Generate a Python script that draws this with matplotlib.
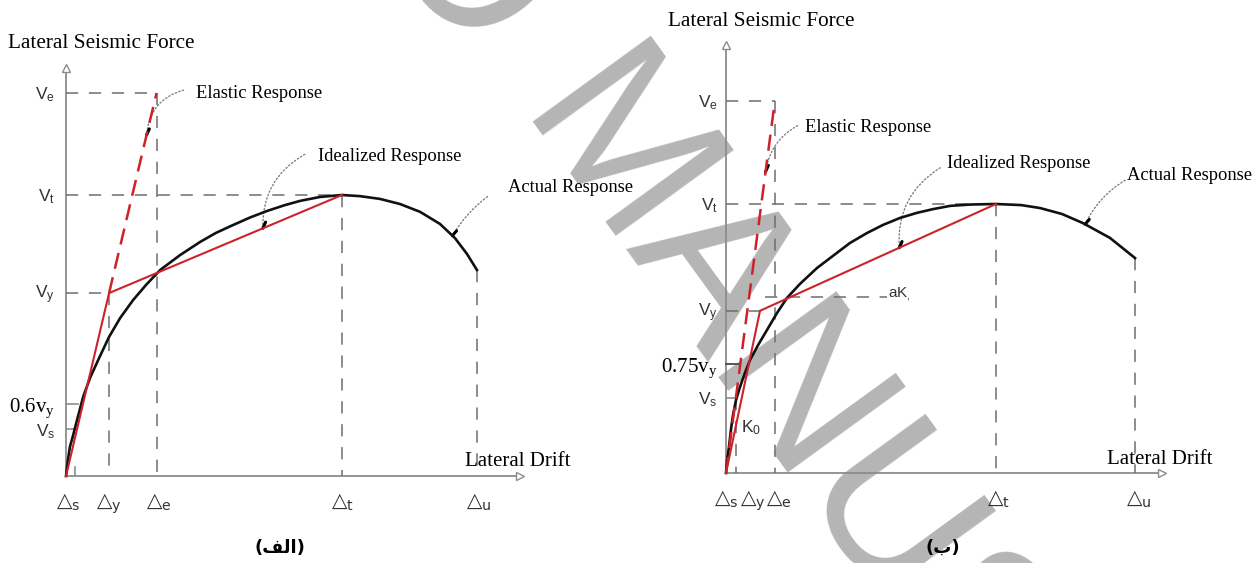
"""
Pushover curve sketches (two idealisations of the lateral force-drift response).
"""
import matplotlib.pyplot as plt
import numpy as np

# ---------------------------------------------------------------------------
# Data (drift in units of Delta_t, force in units of V_t)
# ---------------------------------------------------------------------------
DRIFT_NAMES = ['s', 'y', 'e', 't', 'u']

# panel (الف)
LEFT_DRIFT = [0.033, 0.156, 0.328, 1.0, 1.489]        # Δs, Δy, Δe, Δt, Δu
LEFT_FORCE = [1.363, 1.0, 0.651, 0.256, 0.167]        # Ve, Vt, Vy, 0.6vy, Vs
LEFT_FORCE_LABELS = ['V_e', 'V_t', 'V_y', '0.6v_y', 'V_s']
LEFT_CURVE_X = [0.0, 0.007, 0.014, 0.025, 0.040, 0.062, 0.087, 0.120, 0.156,
                0.196, 0.243, 0.290, 0.341, 0.413, 0.486, 0.543, 0.605, 0.667,
                0.728, 0.793, 0.848, 0.920, 1.0, 1.065, 1.138, 1.210, 1.283,
                1.355, 1.409, 1.453, 1.489]
LEFT_CURVE_Y = [0.0, 0.057, 0.103, 0.142, 0.199, 0.281, 0.349, 0.420, 0.495,
                0.562, 0.626, 0.680, 0.733, 0.786, 0.833, 0.865, 0.893, 0.920,
                0.943, 0.964, 0.979, 0.993, 1.0, 0.996, 0.986, 0.968, 0.940,
                0.897, 0.847, 0.790, 0.733]

# panel (ب)
RIGHT_DRIFT = [0.037, 0.126, 0.181, 1.0, 1.515]
RIGHT_FORCE = [1.383, 1.0, 0.603, 0.405, 0.279]       # Ve, Vt, Vy, 0.75vy, Vs
RIGHT_FORCE_LABELS = ['V_e', 'V_t', 'V_y', '0.75v_y', 'V_s']
RIGHT_AK_LEVEL = 0.654
RIGHT_CURVE_X = [0.0, 0.004, 0.011, 0.019, 0.026, 0.037, 0.052, 0.070, 0.089,
                 0.119, 0.152, 0.189, 0.226, 0.274, 0.337, 0.396, 0.459, 0.522,
                 0.581, 0.644, 0.707, 0.767, 0.830, 0.904, 1.0, 1.093, 1.163,
                 1.244, 1.322, 1.422, 1.515]
RIGHT_CURVE_Y = [0.0, 0.048, 0.097, 0.167, 0.216, 0.271, 0.320, 0.372, 0.420,
                 0.476, 0.532, 0.595, 0.651, 0.703, 0.762, 0.807, 0.855, 0.892,
                 0.922, 0.948, 0.967, 0.981, 0.993, 0.998, 1.0, 0.996, 0.985,
                 0.963, 0.929, 0.874, 0.799]

# ---------------------------------------------------------------------------
# Style
# ---------------------------------------------------------------------------
W, H = 1258, 563
PX = 0.72            # points per pixel at dpi=100
RED = '#cc2229'
GREY_AXIS = '#8c8c8c'
GREY_DASH = '#6e6e6e'
LABEL_COL = '#333333'
SERIF = 'Liberation Serif'
SANS = 'Liberation Sans'

fig = plt.figure(figsize=(W / 100, H / 100), dpi=100)


def panel_axes(origin_px, unit_px, xlim, ylim):
    """Axes placed so that data (0, 0) sits on the given pixel."""
    ox, oy = origin_px
    ux, uy = unit_px
    left = ox + xlim[0] * ux
    right = ox + xlim[1] * ux
    top = oy - ylim[1] * uy
    bottom = oy - ylim[0] * uy
    ax = fig.add_axes([left / W, 1 - bottom / H, (right - left) / W, (bottom - top) / H])
    ax.set_xlim(xlim)
    ax.set_ylim(ylim)
    ax.axis('off')
    ax.patch.set_visible(False)
    return ax


def dashed(ax, xs, ys, color=GREY_DASH, lw=1.1):
    ax.plot(xs, ys, color=color, lw=lw, dashes=(8, 7), clip_on=False, zorder=2)


def leader(ax, tip, text, text_off, start_off, rad, tip_off=(2, 4.5)):
    """Annotation text with a dotted leader ending in a short black tick."""
    ax.annotate(text, xy=tip, xytext=(text_off[0] * PX, text_off[1] * PX),
                textcoords='offset points', ha='left', va='center',
                family=SERIF, fontsize=13.3, color='black')
    ax.annotate('', xy=tip, xytext=(start_off[0] * PX, start_off[1] * PX),
                textcoords='offset points',
                arrowprops=dict(arrowstyle='-', linestyle=':', color='#808080', lw=1.0,
                                shrinkA=0, shrinkB=0,
                                connectionstyle=f'arc3,rad={rad}'))
    ax.annotate('', xy=tip, xytext=tip_off, textcoords='offset points',
                arrowprops=dict(arrowstyle='-', color='black', lw=2.2,
                                shrinkA=0, shrinkB=0))


def draw_frame(ax, top, right):
    # axes with hollow arrow heads
    ax.plot([0, 0], [0, top], color=GREY_AXIS, lw=1.3, clip_on=False, zorder=1)
    ax.plot([0, right], [0, 0], color=GREY_AXIS, lw=1.3, clip_on=False, zorder=1)
    ax.plot(0, top, marker='^', ms=6, mfc='white', mec=GREY_AXIS, mew=1.0, clip_on=False)
    ax.plot(right, 0, marker='>', ms=6, mfc='white', mec=GREY_AXIS, mew=1.0, clip_on=False)
    ax.annotate('Lateral Seismic Force', xy=(0, top), xytext=(-58 * PX, 24 * PX),
                textcoords='offset points', ha='left', va='center',
                family=SERIF, fontsize=15.3)
    ax.annotate('Lateral Drift', xy=(right, 0), xytext=(-55 * PX, 14 * PX),
                textcoords='offset points', ha='left', va='center',
                family=SERIF, fontsize=15)


def force_label(ax, level, label, dx=-8, dy=-1.5):
    if label[0].isdigit():
        ax.annotate(r'$\mathregular{' + label + '}$', xy=(0, level),
                    xytext=(dx, dy - 1.5), textcoords='offset points',
                    ha='right', va='center', family=SERIF, fontsize=15)
    else:
        ax.annotate(r'$\mathregular{' + label + '}$', xy=(0, level),
                    xytext=(dx, dy), textcoords='offset points',
                    ha='right', va='center', family=SANS, fontsize=12.5,
                    color=LABEL_COL)


def drift_label(ax, pos, name, dx_px=0):
    ax.annotate(r'$\mathregular{△_' + name + '}$', xy=(pos, 0),
                xytext=(dx_px * PX, -11.5), textcoords='offset points',
                ha='center', va='top', family='DejaVu Sans', fontsize=14.5,
                color=LABEL_COL)


# ---------------------------------------------------------------------------
# Panel (الف)
# ---------------------------------------------------------------------------
axl = panel_axes((66, 476), (276, 281), (-0.25, 1.95), (-0.3, 1.75))
ds, dy, de, dt, du = LEFT_DRIFT
ve, vt, vy, v06, vs = LEFT_FORCE
cx, cy = np.array(LEFT_CURVE_X), np.array(LEFT_CURVE_Y)

draw_frame(axl, 1.452, 1.645)

# guide lines
dashed(axl, [0, de], [ve, ve])
dashed(axl, [de, de], [ve, 0])
dashed(axl, [0, dt], [vt, vt])
dashed(axl, [dt, dt], [vt, 0])
dashed(axl, [0, dy], [vy, vy])
dashed(axl, [dy, dy], [vy, 0])
dashed(axl, [du, du], [cy[-1], 0])
axl.plot([ds, ds], [0, 0.032], color=GREY_AXIS, lw=1.2)
axl.plot([0, ds], [vs, vs], color=GREY_AXIS, lw=1.2)
axl.plot([0, 0.043], [v06, v06], color=GREY_AXIS, lw=1.2)

# responses
axl.plot(cx, cy, color='#111111', lw=1.9, zorder=4, solid_joinstyle='round')
axl.plot([0, dy, dt], [0, vy, vt], color=RED, lw=1.5, zorder=5)
axl.plot([dy, de], [vy, ve], color=RED, lw=1.8, dashes=(6.5, 3.5), zorder=5)

for lvl, lab in zip(LEFT_FORCE, LEFT_FORCE_LABELS):
    force_label(axl, lvl, lab)
for pos, name, nd in zip(LEFT_DRIFT, DRIFT_NAMES, [-7, 0, 2.5, 0, 2]):
    drift_label(axl, pos, name, nd)

f = 0.89
leader(axl, (f * de, f * ve), 'Elastic Response', (49, 42), (37, 45), 0.35)
f = 0.66
leader(axl, (dy + f * (dt - dy), vy + f * (vt - vy)), 'Idealized Response',
       (55, 72), (42, 74), 0.3)
xa = 1.40
peak = int(np.argmax(cy))
leader(axl, (xa, np.interp(xa, cx[peak:], cy[peak:])), 'Actual Response',
       (56, 48), (35, 39), 0.1, tip_off=(3, 3.5))

# ---------------------------------------------------------------------------
# Panel (ب)
# ---------------------------------------------------------------------------
axr = panel_axes((726, 473), (270, 269), (-0.3, 1.95), (-0.33, 1.76))
ds, dy, de, dt, du = RIGHT_DRIFT
ve, vt, vy, v075, vs = RIGHT_FORCE
cx, cy = np.array(RIGHT_CURVE_X), np.array(RIGHT_CURVE_Y)

draw_frame(axr, 1.591, 1.615)

dashed(axr, [0, de], [ve, ve])
dashed(axr, [de, de], [ve, 0])
dashed(axr, [0, dt], [vt, vt])
dashed(axr, [dt, dt], [vt, 0])
dashed(axr, [0, dy], [vy, vy])
dashed(axr, [ds, ds], [vs, 0])
dashed(axr, [du, du], [cy[-1], 0])
dashed(axr, [0.144, 0.596], [RIGHT_AK_LEVEL, RIGHT_AK_LEVEL])
axr.plot([0, ds], [vs, vs], color=GREY_AXIS, lw=1.2)
axr.plot([0, 0.05], [v075, v075], color='#555555', lw=1.4)

axr.plot(cx, cy, color='#111111', lw=1.9, zorder=4, solid_joinstyle='round')
axr.plot([0, dy, dt], [0, vy, vt], color=RED, lw=1.5, zorder=5)
axr.plot([0, de], [0, ve], color=RED, lw=1.8, dashes=(6.5, 3.5), zorder=5)

for lvl, lab in zip(RIGHT_FORCE, RIGHT_FORCE_LABELS):
    force_label(axr, lvl, lab, dx=-6)
for pos, name, nd in zip(RIGHT_DRIFT, DRIFT_NAMES, [-10, -7.5, 4, 2.5, 4]):
    drift_label(axr, pos, name, nd)

axr.annotate(r'$\mathregular{aK_{,}}$', xy=(0.596, RIGHT_AK_LEVEL), xytext=(1, 2),
             textcoords='offset points', ha='left', va='center',
             family=SANS, fontsize=11, color=LABEL_COL)
axr.annotate(r'$\mathregular{K_0}$', xy=(0, 0), xytext=(18, 33),
             textcoords='offset points', ha='center', va='center',
             family=SANS, fontsize=12.5, color=LABEL_COL)

f = 0.81
leader(axr, (f * de, f * ve), 'Elastic Response', (39, 44), (32, 46), 0.25)
f = 0.59
leader(axr, (dy + f * (dt - dy), vy + f * (vt - vy)), 'Idealized Response',
       (48, 84), (41, 80), 0.3)
xa = 1.33
peak = int(np.argmax(cy))
leader(axr, (xa, np.interp(xa, cx[peak:], cy[peak:])), 'Actual Response',
       (42, 49), (40, 44), 0.15, tip_off=(3, 3.5))

# ---------------------------------------------------------------------------
# Captions and watermark
# ---------------------------------------------------------------------------
fig.text(280 / W, 1 - 548 / H, '(\uFED2\uFEDF\uFE8D)', ha='center', va='center',
         family='DejaVu Sans', fontweight='bold', fontsize=13)
fig.text(943 / W, 1 - 548 / H, '(\uFE8F)', ha='center', va='center',
         family='DejaVu Sans', fontweight='bold', fontsize=13)

wm = dict(rotation=-54, rotation_mode='anchor', va='baseline', fontsize=152,
          color='#b5b5b5', family=SANS, zorder=-1)
fig.text(466 / W, 1 - 62 / H, 'ACCEPTED', ha='right', **wm)
fig.text(514 / W, 1 - 121 / H, 'MANUSCRIPT', ha='left', **wm)

plt.savefig('out.png', dpi=100)
plt.close()
